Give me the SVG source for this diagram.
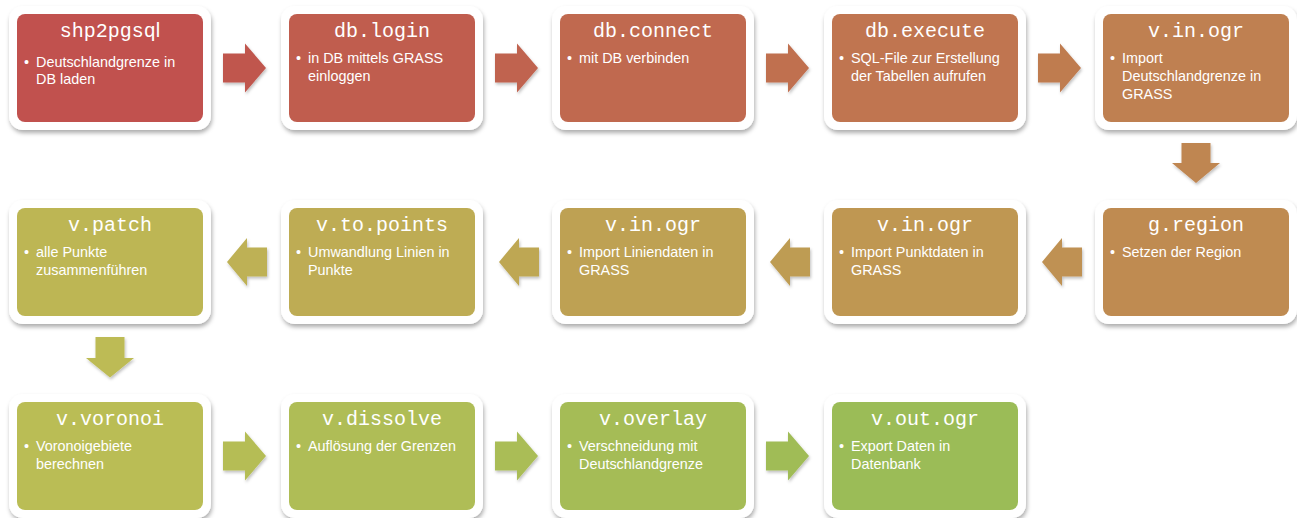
<svg xmlns="http://www.w3.org/2000/svg" width="1297" height="518" viewBox="0 0 1297 518">
<style>
.frame{fill:#ffffff;filter:url(#sh)}
.title{font-family:"Liberation Mono","Courier New",monospace;font-size:20px;fill:#ffffff;text-anchor:middle}
.body{font-family:"Liberation Sans",Arial,sans-serif;font-size:14.4px;fill:#ffffff}
.arrow{filter:url(#ash)}
</style>
<defs>
<filter id="sh" x="-10%" y="-10%" width="120%" height="130%">
<feDropShadow dx="1" dy="3" stdDeviation="2.2" flood-color="#000" flood-opacity="0.32"/>
</filter>
<filter id="ash" x="-30%" y="-30%" width="160%" height="160%">
<feDropShadow dx="1" dy="2" stdDeviation="1.8" flood-color="#000" flood-opacity="0.25"/>
</filter>
</defs>
<rect width="1297" height="518" fill="#ffffff"/>

<g id="connectors">
<path class="arrow" fill="hsl(4.7,47.8%,53%)" d="M223,53.5H245V43.5L266,68L245,92.5V82.5H223Z"/>
<path class="arrow" fill="hsl(10.7,47.4%,53.1%)" d="M495,53.5H517V43.5L538,68L517,92.5V82.5H495Z"/>
<path class="arrow" fill="hsl(16.8,47%,53.2%)" d="M766,53.5H788V43.5L809,68L788,92.5V82.5H766Z"/>
<path class="arrow" fill="hsl(22.8,46.6%,53.3%)" d="M1038,53.5H1060V43.5L1081,68L1060,92.5V82.5H1038Z"/>
<path class="arrow" fill="hsl(28.8,46.3%,53.3%)" d="M1181.5,143H1210.5V163H1220L1196,183L1172,163H1181.5Z"/>
<path class="arrow" fill="hsl(34.8,45.9%,53.4%)" d="M1042,262L1062,238V247.5H1082V276.5H1062V286Z"/>
<path class="arrow" fill="hsl(40.8,45.5%,53.5%)" d="M770,262L790,238V247.5H810V276.5H790V286Z"/>
<path class="arrow" fill="hsl(46.9,45.1%,53.6%)" d="M499,262L519,238V247.5H539V276.5H519V286Z"/>
<path class="arrow" fill="hsl(52.9,44.7%,53.7%)" d="M227,262L247,238V247.5H267V276.5H247V286Z"/>
<path class="arrow" fill="hsl(58.9,44.3%,53.7%)" d="M95.5,337H124.5V358H134L110,377.5L86,358H95.5Z"/>
<path class="arrow" fill="hsl(64.9,44%,53.8%)" d="M223,441.5H245V431.5L266,456L245,480.5V470.5H223Z"/>
<path class="arrow" fill="hsl(70.9,43.6%,53.9%)" d="M495,441.5H517V431.5L538,456L517,480.5V470.5H495Z"/>
<path class="arrow" fill="hsl(77,43.2%,54%)" d="M766,441.5H788V431.5L809,456L788,480.5V470.5H766Z"/>
</g>

<g id="n-shp2pgsql">
<rect class="frame" x="9" y="6" width="202" height="124" rx="14"/>
<rect x="17" y="14" width="186" height="108" rx="8" fill="hsl(1.7,48%,53%)"/>
<text class="title" x="110" y="37">shp2pgsq<tspan font-family="Liberation Sans, Arial, sans-serif">l</tspan></text>
<text class="body" x="24" y="67">•</text>
<text class="body" x="36" y="67">Deutschlandgrenze in</text>
<text class="body" x="36" y="84">DB laden</text>
</g>

<g id="n-db-login">
<rect class="frame" x="281" y="6" width="202" height="124" rx="14"/>
<rect x="289" y="14" width="186" height="108" rx="8" fill="hsl(7.7,47.6%,53.1%)"/>
<text class="title" x="382" y="37">db.login</text>
<text class="body" x="296" y="63">•</text>
<text class="body" x="308" y="63">in DB mittels GRASS</text>
<text class="body" x="308" y="81">einloggen</text>
</g>

<g id="n-db-connect">
<rect class="frame" x="552" y="6" width="202" height="124" rx="14"/>
<rect x="560" y="14" width="186" height="108" rx="8" fill="hsl(13.7,47.2%,53.2%)"/>
<text class="title" x="653" y="37">db.connect</text>
<text class="body" x="567" y="63">•</text>
<text class="body" x="579" y="63">mit DB verbinden</text>
</g>

<g id="n-db-execute">
<rect class="frame" x="824" y="6" width="202" height="124" rx="14"/>
<rect x="832" y="14" width="186" height="108" rx="8" fill="hsl(19.8,46.8%,53.2%)"/>
<text class="title" x="925" y="37">db.execute</text>
<text class="body" x="839" y="63">•</text>
<text class="body" x="851" y="63">SQL-File zur Erstellung</text>
<text class="body" x="851" y="81">der Tabellen aufrufen</text>
</g>

<g id="n-v-in-ogr-1">
<rect class="frame" x="1095" y="6" width="202" height="124" rx="14"/>
<rect x="1103" y="14" width="186" height="108" rx="8" fill="hsl(25.8,46.5%,53.3%)"/>
<text class="title" x="1196" y="37">v.in.ogr</text>
<text class="body" x="1110" y="63">•</text>
<text class="body" x="1122" y="63">Import</text>
<text class="body" x="1122" y="81">Deutschlandgrenze in</text>
<text class="body" x="1122" y="99">GRASS</text>
</g>

<g id="n-g-region">
<rect class="frame" x="1095" y="200" width="202" height="124" rx="14"/>
<rect x="1103" y="208" width="186" height="108" rx="8" fill="hsl(31.8,46.1%,53.4%)"/>
<text class="title" x="1196" y="231">g.region</text>
<text class="body" x="1110" y="257">•</text>
<text class="body" x="1122" y="257">Setzen der Region</text>
</g>

<g id="n-v-in-ogr-2">
<rect class="frame" x="824" y="200" width="202" height="124" rx="14"/>
<rect x="832" y="208" width="186" height="108" rx="8" fill="hsl(37.8,45.7%,53.5%)"/>
<text class="title" x="925" y="231">v.in.ogr</text>
<text class="body" x="839" y="257">•</text>
<text class="body" x="851" y="257">Import Punktdaten in</text>
<text class="body" x="851" y="275">GRASS</text>
</g>

<g id="n-v-in-ogr-3">
<rect class="frame" x="552" y="200" width="202" height="124" rx="14"/>
<rect x="560" y="208" width="186" height="108" rx="8" fill="hsl(43.8,45.3%,53.5%)"/>
<text class="title" x="653" y="231">v.in.ogr</text>
<text class="body" x="567" y="257">•</text>
<text class="body" x="579" y="257">Import Liniendaten in</text>
<text class="body" x="579" y="275">GRASS</text>
</g>

<g id="n-v-to-points">
<rect class="frame" x="281" y="200" width="202" height="124" rx="14"/>
<rect x="289" y="208" width="186" height="108" rx="8" fill="hsl(49.9,44.9%,53.6%)"/>
<text class="title" x="382" y="231">v.to.points</text>
<text class="body" x="296" y="257">•</text>
<text class="body" x="308" y="257">Umwandlung Linien in</text>
<text class="body" x="308" y="275">Punkte</text>
</g>

<g id="n-v-patch">
<rect class="frame" x="9" y="200" width="202" height="124" rx="14"/>
<rect x="17" y="208" width="186" height="108" rx="8" fill="hsl(55.9,44.5%,53.7%)"/>
<text class="title" x="110" y="231">v.patch</text>
<text class="body" x="24" y="257">•</text>
<text class="body" x="36" y="257">alle Punkte</text>
<text class="body" x="36" y="275">zusammenführen</text>
</g>

<g id="n-v-voronoi">
<rect class="frame" x="9" y="394" width="202" height="124" rx="14"/>
<rect x="17" y="402" width="186" height="108" rx="8" fill="hsl(61.9,44.1%,53.8%)"/>
<text class="title" x="110" y="425">v.voronoi</text>
<text class="body" x="24" y="451">•</text>
<text class="body" x="36" y="451">Voronoigebiete</text>
<text class="body" x="36" y="469">berechnen</text>
</g>

<g id="n-v-dissolve">
<rect class="frame" x="281" y="394" width="202" height="124" rx="14"/>
<rect x="289" y="402" width="186" height="108" rx="8" fill="hsl(67.9,43.8%,53.8%)"/>
<text class="title" x="382" y="425">v.dissolve</text>
<text class="body" x="296" y="451">•</text>
<text class="body" x="308" y="451">Auflösung der Grenzen</text>
</g>

<g id="n-v-overlay">
<rect class="frame" x="552" y="394" width="202" height="124" rx="14"/>
<rect x="560" y="402" width="186" height="108" rx="8" fill="hsl(73.9,43.4%,53.9%)"/>
<text class="title" x="653" y="425">v.overlay</text>
<text class="body" x="567" y="451">•</text>
<text class="body" x="579" y="451">Verschneidung mit</text>
<text class="body" x="579" y="469">Deutschlandgrenze</text>
</g>

<g id="n-v-out-ogr">
<rect class="frame" x="824" y="394" width="202" height="124" rx="14"/>
<rect x="832" y="402" width="186" height="108" rx="8" fill="hsl(80,43%,54%)"/>
<text class="title" x="925" y="425">v.out.ogr</text>
<text class="body" x="839" y="451">•</text>
<text class="body" x="851" y="451">Export Daten in</text>
<text class="body" x="851" y="469">Datenbank</text>
</g>
</svg>
